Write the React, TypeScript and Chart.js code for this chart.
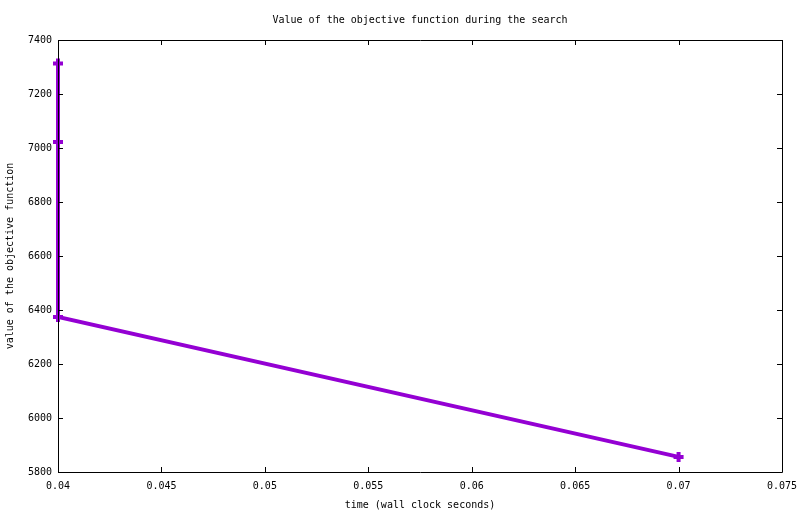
import React, { useEffect, useRef } from "react";
import { Chart, registerables } from "chart.js";

Chart.register(...registerables);

const times = [0.04, 0.04, 0.04, 0.07];
const objectiveValues = [7313, 7022, 6374, 5856];
const xMin = 0.04;
const xMax = 0.075;
const xStep = 0.005;
const yMin = 5800;
const yMax = 7400;
const yStep = 200;

const chartTitle = "Value of the objective function during the search";
const xTitle = "time (wall clock seconds)";
const yTitle = "value of the objective function";

const FONT = "'DejaVu Sans Mono', monospace";
const PURPLE = "#9400D3";

const frameTicks = {
  id: "frameTicks",
  afterDatasetsDraw(chart: any) {
    const { ctx, chartArea } = chart;
    const { left, right, top, bottom } = chartArea;
    const xs = chart.scales.x;
    const ys = chart.scales.y;
    const L = 5;
    ctx.save();
    ctx.strokeStyle = "#000";
    ctx.lineWidth = 1;
    ctx.beginPath();
    ctx.rect(Math.round(left) + 0.5, Math.round(top) + 0.5, Math.round(right - left), Math.round(bottom - top));
    xs.ticks.forEach((t: any) => {
      const px = Math.round(xs.getPixelForValue(t.value)) + 0.5;
      ctx.moveTo(px, bottom);
      ctx.lineTo(px, bottom - L);
      ctx.moveTo(px, top);
      ctx.lineTo(px, top + L);
    });
    ys.ticks.forEach((t: any) => {
      const py = Math.round(ys.getPixelForValue(t.value)) + 0.5;
      ctx.moveTo(left, py);
      ctx.lineTo(left + L, py);
      ctx.moveTo(right, py);
      ctx.lineTo(right - L, py);
    });
    ctx.stroke();
    ctx.restore();
  },
};

export default function App() {
  const ref = useRef<HTMLCanvasElement | null>(null);

  useEffect(() => {
    if (!ref.current) return;
    const chart = new Chart(ref.current, {
      type: "line",
      data: {
        datasets: [
          {
            data: times.map((t, i) => ({ x: t, y: objectiveValues[i] })),
            borderColor: PURPLE,
            backgroundColor: PURPLE,
            borderWidth: 4,
            pointStyle: "cross",
            pointRadius: 5,
            pointBorderWidth: 4,
            pointBorderColor: PURPLE,
            tension: 0,
            fill: false,
            clip: false as any,
          },
        ],
      },
      options: {
        animation: false,
        responsive: true,
        maintainAspectRatio: false,
        layout: { padding: { top: 0, right: 18, left: 0, bottom: 0 } },
        plugins: {
          legend: { display: false },
          tooltip: { enabled: false },
          title: {
            display: true,
            fullSize: false,
            text: chartTitle,
            color: "#000",
            font: { family: FONT, size: 10, weight: "normal" },
            padding: { top: 14, bottom: 14 },
          },
        },
        scales: {
          x: {
            type: "linear",
            min: xMin,
            max: xMax,
            grid: { display: false, drawTicks: false },
            border: { display: false },
            ticks: {
              stepSize: xStep,
              color: "#000",
              font: { family: FONT, size: 10 },
              padding: 8,
              maxRotation: 0,
              callback: (v: any) => String(Number(Number(v).toFixed(4))),
            },
            title: {
              display: true,
              text: xTitle,
              color: "#000",
              font: { family: FONT, size: 10 },
              padding: { top: 0, bottom: 3 },
            },
            afterFit: (s: any) => {
              s.height = 42;
              s.paddingLeft = 0;
              s.paddingRight = 0;
            },
          },
          y: {
            type: "linear",
            min: yMin,
            max: yMax,
            grid: { display: false, drawTicks: false },
            border: { display: false },
            ticks: {
              stepSize: yStep,
              color: "#000",
              font: { family: FONT, size: 10 },
              padding: 6,
              callback: (v: any) => String(v),
            },
            title: {
              display: true,
              text: yTitle,
              color: "#000",
              font: { family: FONT, size: 10 },
              padding: { top: 4, bottom: 0 },
            },
            afterFit: (s: any) => {
              s.width = 58;
            },
          },
        },
      },
      plugins: [frameTicks],
    });
    return () => chart.destroy();
  }, []);

  return (
    <div style={{ position: "absolute", left: 0, top: 0, width: 800, height: 514, background: "#fff" }}>
      <canvas ref={ref} />
    </div>
  );
}
